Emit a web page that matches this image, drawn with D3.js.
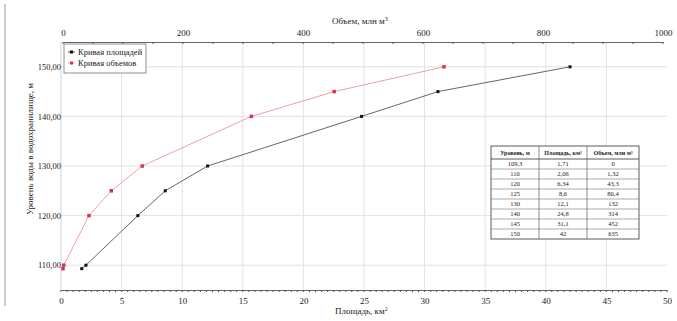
<!DOCTYPE html>
<html>
<head>
<meta charset="utf-8">
<script src="https://cdn.jsdelivr.net/npm/d3@7"></script>
<style>
  body { margin: 0; background: #fff; }
  svg text { font-family: "Liberation Serif", "Times New Roman", "DejaVu Serif", serif; fill: #222; }
</style>
</head>
<body>
<div id="chart"></div>
<script>
// table / series data
const levels = [109.3, 110, 120, 125, 130, 140, 145, 150];
const areas = [1.71, 2.06, 6.34, 8.6, 12.1, 24.8, 31.1, 42];
const volumes = [0, 1.32, 43.3, 80.4, 132, 314, 452, 635];
const levelLabels = ["109,3", "110", "120", "125", "130", "140", "145", "150"];
const areaLabels = ["1,71", "2,06", "6,34", "8,6", "12,1", "24,8", "31,1", "42"];
const volumeLabels = ["0", "1,32", "43,3", "80,4", "132", "314", "452", "635"];
const tableHeader = ["Уровень, м", "Площадь, км²", "Объем, млн м³"];

const width = 677, height = 321;
const mLeft = 61, mRight = 667, mTop = 42, mBottom = 290;
const serif = '"Liberation Serif", "Times New Roman", serif';

const svg = d3.select('#chart').append('svg')
  .attr('width', width)
  .attr('height', height);

const x = d3.scaleLinear().domain([0, 50]).range([mLeft, mRight]);
const xTop = d3.scaleLinear().domain([0, 1000]).range([63, 663]);
const y = d3.scaleLinear().domain([105, 155]).range([mBottom, mTop]);

// page edge from the scan
svg.append('line')
  .attr('x1', 5).attr('x2', 5).attr('y1', 4).attr('y2', 306)
  .attr('stroke', '#999').attr('stroke-width', 1);

// grid
svg.append('g').selectAll('line')
  .data(d3.range(5, 50, 5))
  .enter().append('line')
  .attr('x1', d => x(d)).attr('x2', d => x(d))
  .attr('y1', mTop).attr('y2', mBottom)
  .attr('stroke', '#dfe2e8');

svg.append('g').selectAll('line')
  .data(d3.range(110, 151, 10))
  .enter().append('line')
  .attr('x1', mLeft).attr('x2', mRight)
  .attr('y1', d => y(d)).attr('y2', d => y(d))
  .attr('stroke', '#dfe2e8');

svg.append('line')
  .attr('x1', mLeft).attr('x2', mLeft).attr('y1', mTop).attr('y2', mBottom)
  .attr('stroke', '#cfd3da');

// bottom axis
const xAxis = svg.append('g')
  .attr('transform', 'translate(0,' + mBottom + ')')
  .call(d3.axisBottom(x).tickValues(d3.range(0, 51, 5)).tickSize(0).tickPadding(8));
xAxis.append('g').selectAll('line')
  .data(d3.range(0, 50.01, 0.5))
  .enter().append('line')
  .attr('x1', d => x(d)).attr('x2', d => x(d))
  .attr('y1', 0).attr('y2', 2)
  .attr('stroke', '#555');

// top axis
const xTopAxis = svg.append('g')
  .attr('transform', 'translate(0,' + mTop + ')')
  .call(d3.axisTop(xTop).tickValues(d3.range(0, 1001, 200)).tickSize(0).tickPadding(6)
    .tickFormat(d3.format('d')));
xTopAxis.append('g').selectAll('line')
  .data(d3.range(0, 1001, 50))
  .enter().append('line')
  .attr('x1', d => xTop(d)).attr('x2', d => xTop(d))
  .attr('y1', 0).attr('y2', 2)
  .attr('stroke', '#555');

// left axis labels
const yAxis = svg.append('g')
  .attr('transform', 'translate(' + mLeft + ',0)')
  .call(d3.axisLeft(y).tickValues(d3.range(110, 151, 10)).tickSize(0).tickPadding(0)
    .tickFormat(d => d3.format('.2f')(d).replace('.', ',')));
yAxis.select('.domain').remove();

svg.selectAll('.tick text')
  .attr('font-family', serif)
  .style('font-size', '9px')
  .attr('fill', '#222');
yAxis.selectAll('.tick text').style('font-size', '8.5px');
xAxis.select('.domain').attr('stroke', '#666');
xTopAxis.select('.domain').attr('stroke', '#666');

// axis titles
svg.append('text')
  .attr('x', 332).attr('y', 24)
  .style('font-size', '9px')
  .html('Объем, млн м<tspan dy="-3" font-size="6px">3</tspan>');

svg.append('text')
  .attr('x', 335).attr('y', 314)
  .style('font-size', '9px')
  .html('Площадь, км<tspan dy="-3" font-size="6px">2</tspan>');

svg.append('text')
  .attr('transform', 'translate(33,149) rotate(-90)')
  .attr('text-anchor', 'middle')
  .style('font-size', '9px')
  .text('Уровень воды в водохранилище, м');

// curves
const areaLine = d3.line().x(d => x(d[0])).y(d => y(d[1]));
const volLine = d3.line().x(d => xTop(d[0])).y(d => y(d[1]));
const areaPts = areas.map((a, i) => [a, levels[i]]);
const volPts = volumes.map((v, i) => [v, levels[i]]);

svg.append('path')
  .datum(areaPts)
  .attr('d', areaLine)
  .attr('fill', 'none')
  .attr('stroke', '#555')
  .attr('stroke-width', 0.9);

svg.append('g').selectAll('rect')
  .data(areaPts)
  .enter().append('rect')
  .attr('x', d => x(d[0]) - 1.5).attr('y', d => y(d[1]) - 1.5)
  .attr('width', 3).attr('height', 3)
  .attr('fill', '#111');

svg.append('path')
  .datum(volPts)
  .attr('d', volLine)
  .attr('fill', 'none')
  .attr('stroke', '#f0a0a8')
  .attr('stroke-width', 1);

svg.append('g').selectAll('rect')
  .data(volPts)
  .enter().append('rect')
  .attr('x', d => xTop(d[0]) - 1.75).attr('y', d => y(d[1]) - 1.75)
  .attr('width', 3.5).attr('height', 3.5)
  .attr('fill', '#d8344a');

// legend
const legend = svg.append('g').attr('transform', 'translate(64,44)');
legend.append('rect')
  .attr('width', 82).attr('height', 29)
  .attr('fill', '#fff').attr('stroke', '#777').attr('stroke-width', 0.8);
const legendItems = [
  { label: 'Кривая площадей', line: '#555', mark: '#111' },
  { label: 'Кривая объемов', line: '#f0a0a8', mark: '#d8344a' }
];
legendItems.forEach((d, i) => {
  const gy = 8 + i * 11;
  legend.append('line')
    .attr('x1', 4).attr('x2', 11).attr('y1', gy).attr('y2', gy)
    .attr('stroke', d.line);
  legend.append('rect')
    .attr('x', 6).attr('y', gy - 1.5).attr('width', 3).attr('height', 3)
    .attr('fill', d.mark);
  legend.append('text')
    .attr('x', 14).attr('y', gy + 3)
    .style('font-size', '8.5px')
    .text(d.label);
});

// table
const tbl = svg.append('g').attr('transform', 'translate(491,146)');
const colX = [0, 48, 96, 148];
const headH = 13, rowH = 10;
const tblH = headH + rowH * levels.length;
tbl.append('rect')
  .attr('width', colX[3]).attr('height', tblH)
  .attr('fill', '#fff').attr('stroke', '#333').attr('stroke-width', 0.8);
colX.slice(1, 3).forEach(cx => {
  tbl.append('line')
    .attr('x1', cx).attr('x2', cx).attr('y1', 0).attr('y2', tblH)
    .attr('stroke', '#444').attr('stroke-width', 0.6);
});
tbl.append('line')
  .attr('x1', 0).attr('x2', colX[3]).attr('y1', headH).attr('y2', headH)
  .attr('stroke', '#333').attr('stroke-width', 0.8);
levels.forEach((l, i) => {
  if (i > 0) {
    tbl.append('line')
      .attr('x1', 0).attr('x2', colX[3])
      .attr('y1', headH + rowH * i).attr('y2', headH + rowH * i)
      .attr('stroke', '#555').attr('stroke-width', 0.5);
  }
});
tableHeader.forEach((h, j) => {
  tbl.append('text')
    .attr('x', (colX[j] + colX[j + 1]) / 2).attr('y', 8.5)
    .attr('text-anchor', 'middle')
    .style('font-size', '6px')
    .style('font-weight', 'bold')
    .text(h);
});
const cols = [levelLabels, areaLabels, volumeLabels];
cols.forEach((col, j) => {
  col.forEach((v, i) => {
    tbl.append('text')
      .attr('x', (colX[j] + colX[j + 1]) / 2)
      .attr('y', headH + rowH * i + 7.3)
      .attr('text-anchor', 'middle')
      .style('font-size', '6.5px')
      .text(v);
  });
});
</script>
</body>
</html>
